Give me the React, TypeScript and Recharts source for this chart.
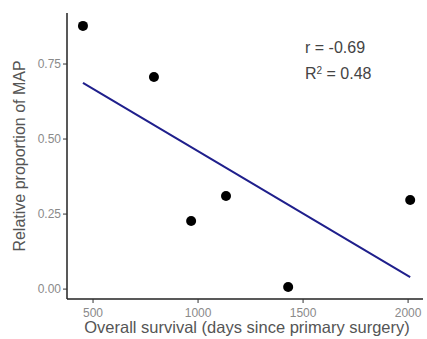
import { ComposedChart, Scatter, Line, XAxis, YAxis } from 'recharts';

// Survival (days) vs relative proportion of MAP
const survivalDays = [452, 790, 967, 1133, 1429, 2010];
const mapProportion = [0.877, 0.707, 0.227, 0.31, 0.007, 0.297];

// fitted regression line end points
const fitDays = [452, 2010];
const fitValues = [0.687, 0.04];

const xTicks = [500, 1000, 1500, 2000];
const yTicks = [0, 0.25, 0.5, 0.75];

const points = survivalDays.map((d, i) => ({ x: d, y: mapProportion[i] }));
const fitLine = fitDays.map((d, i) => ({ x: d, y: fitValues[i] }));

const font = '"Liberation Sans", Arial, sans-serif';

export default function App() {
  return (
    <div style={{ position: 'absolute', left: 0, top: 0, width: 427, height: 339, background: '#fff', fontFamily: font }}>
      <ComposedChart width={427} height={339} margin={{ top: 13, right: 4, left: 0, bottom: 0 }}>
        <XAxis
          dataKey="x"
          type="number"
          domain={[376, 2071]}
          ticks={xTicks}
          height={40}
          tickSize={4}
          tickMargin={5}
          axisLine={{ stroke: '#222', strokeWidth: 1.5 }}
          tickLine={{ stroke: '#333' }}
          tick={{ fill: '#8a8a8a', fontSize: 12, fontFamily: font }}
          allowDataOverflow
          label={{
            content: () => (
              <text x={247} y={333} textAnchor="middle" fill="#555" fontSize={16.5} fontFamily={font}>
                Overall survival (days since primary surgery)
              </text>
            ),
          }}
        />
        <YAxis
          dataKey="y"
          type="number"
          domain={[-0.033, 0.92]}
          ticks={yTicks}
          width={67}
          tickSize={4}
          tickMargin={2}
          tickFormatter={(v: number) => v.toFixed(2)}
          axisLine={{ stroke: '#222', strokeWidth: 1.5 }}
          tickLine={{ stroke: '#333' }}
          tick={{ fill: '#8a8a8a', fontSize: 12, fontFamily: font }}
          allowDataOverflow
          label={{
            content: () => (
              <text
                x={25}
                y={156}
                textAnchor="middle"
                fill="#555"
                fontSize={16}
                fontFamily={font}
                transform="rotate(-90 25 156)"
              >
                Relative proportion of MAP
              </text>
            ),
          }}
        />
        <Line
          data={fitLine}
          dataKey="y"
          type="linear"
          dot={false}
          stroke="#1f1f8c"
          strokeWidth={2}
          isAnimationActive={false}
        />
        <Scatter
          data={points}
          dataKey="y"
          fill="#000"
          isAnimationActive={false}
          shape={(p: any) => <circle cx={p.cx} cy={p.cy} r={5} fill="#000" />}
        />
      </ComposedChart>
      <div style={{ position: 'absolute', left: 305, top: 35, fontSize: 16, lineHeight: '26px', color: '#444' }}>
        <div>r = -0.69</div>
        <div>
          R<sup style={{ fontSize: 10, verticalAlign: 'top', lineHeight: '20px' }}>2</sup> = 0.48
        </div>
      </div>
    </div>
  );
}
